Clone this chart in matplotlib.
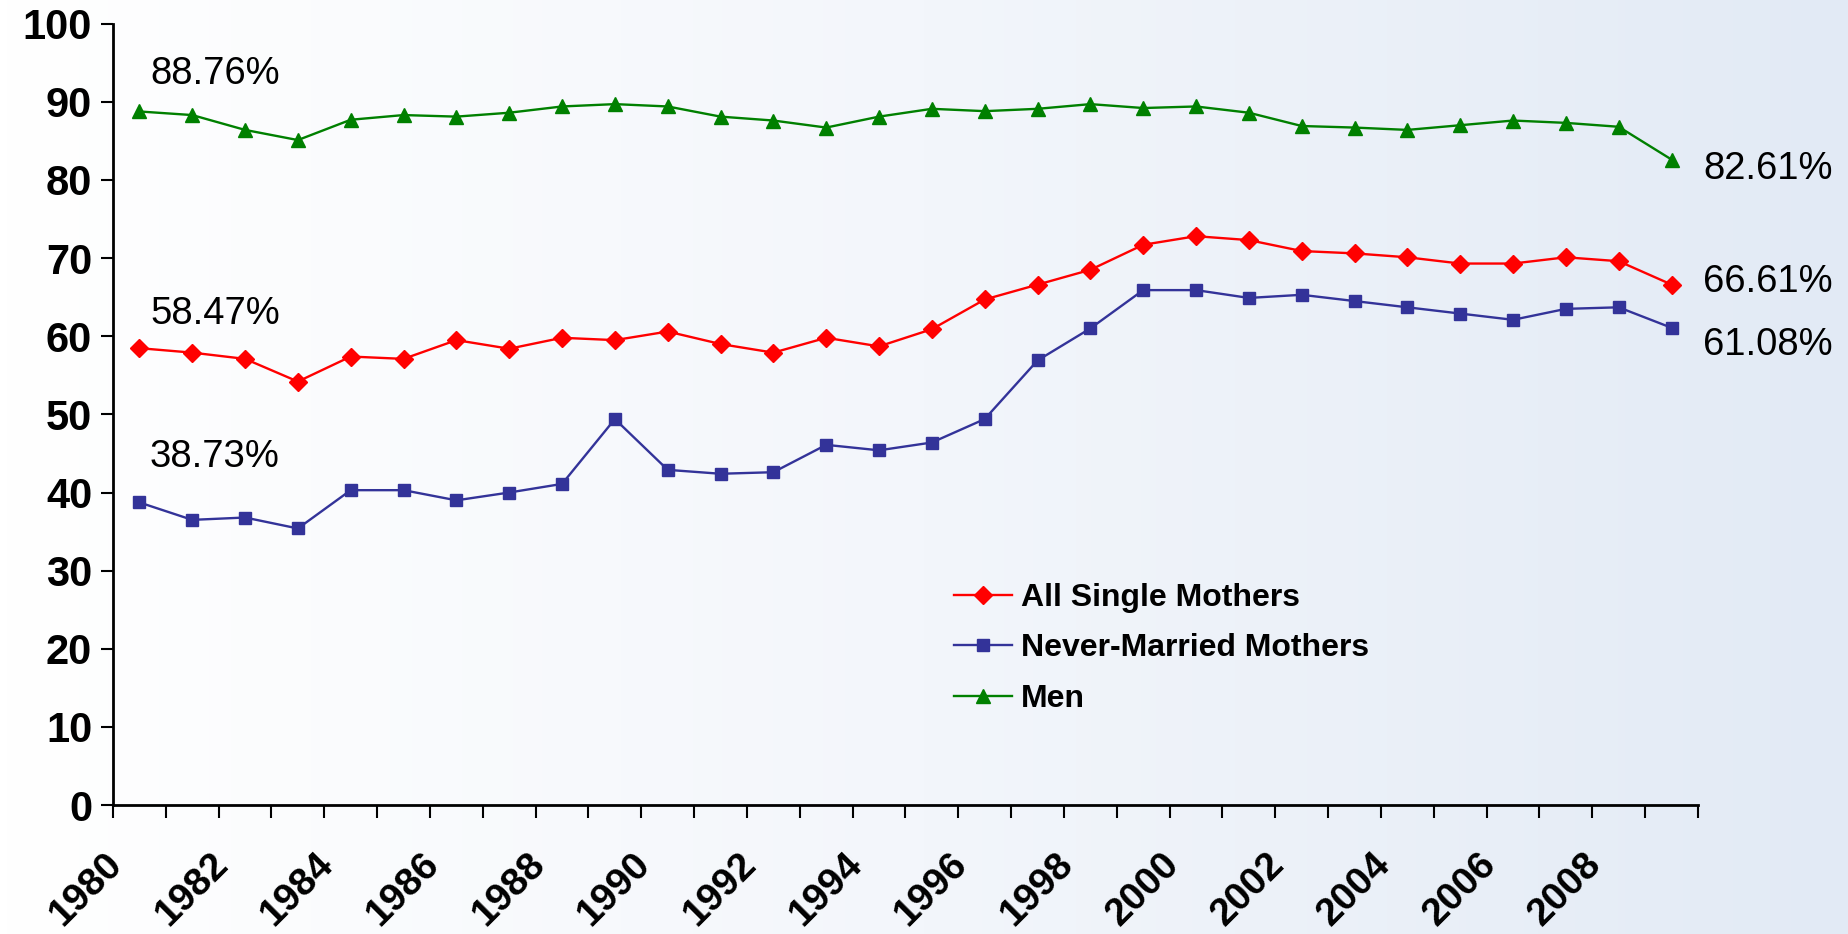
import matplotlib
matplotlib.use("Agg")
import matplotlib.pyplot as plt
import matplotlib.transforms as mtransforms
from matplotlib.colors import LinearSegmentedColormap
import numpy as np

plt.rcParams['font.family'] = ['Liberation Sans', 'DejaVu Sans']

# data, 1980-2009
years = list(range(1980, 2010))
all_single = [58.47, 57.9, 57.1, 54.2, 57.4, 57.1, 59.5, 58.4, 59.8, 59.5,
              60.6, 59.0, 57.9, 59.8, 58.7, 60.9, 64.7, 66.6, 68.5, 71.7,
              72.8, 72.3, 70.9, 70.6, 70.1, 69.3, 69.3, 70.1, 69.6, 66.61]
never_married = [38.73, 36.5, 36.8, 35.4, 40.3, 40.3, 39.0, 40.0, 41.1, 49.4,
                 42.9, 42.4, 42.6, 46.1, 45.4, 46.4, 49.4, 56.9, 61.0, 65.9,
                 65.9, 64.9, 65.3, 64.5, 63.7, 62.9, 62.1, 63.5, 63.7, 61.08]
men = [88.76, 88.3, 86.4, 85.1, 87.7, 88.3, 88.1, 88.6, 89.4, 89.7,
       89.4, 88.1, 87.6, 86.7, 88.1, 89.1, 88.8, 89.1, 89.7, 89.2,
       89.4, 88.6, 86.9, 86.7, 86.4, 87.0, 87.6, 87.3, 86.8, 82.61]

labels = ["All Single Mothers", "Never-Married Mothers", "Men"]

fig = plt.figure(figsize=(18.49, 9.34), dpi=100)

# background gradient, white on the left to pale blue on the right
bg = fig.add_axes([0, 0, 1, 1], zorder=-10)
cmap = LinearSegmentedColormap.from_list("bg", ["#ffffff", "#f3f6fb", "#e2eaf5"])
bg.imshow(np.linspace(0, 1, 512).reshape(1, -1), aspect='auto', cmap=cmap,
          extent=[0, 1, 0, 1])
bg.axis('off')

ax = fig.add_axes([0.0611, 0.138, 0.8572, 0.8367])
ax.patch.set_alpha(0)

x = np.array(years) + 0.5
ax.plot(x, all_single, color='#ff0000', lw=1.7, marker='D', ms=9.5, label=labels[0])
ax.plot(x, never_married, color='#333399', lw=1.7, marker='s', ms=9, label=labels[1])
ax.plot(x, men, color='#008000', lw=1.7, marker='^', ms=10.5, label=labels[2])

ax.set_xlim(1980, 2010)
ax.set_ylim(0, 100)
ax.set_yticks(range(0, 101, 10))
ax.set_xticks(range(1980, 2011))
ax.set_xticklabels([str(y) if (y % 2 == 0 and y < 2010) else '' for y in range(1980, 2011)],
                   rotation=45, ha='right', va='top', rotation_mode='anchor')

for s in ['top', 'right']:
    ax.spines[s].set_visible(False)
for s in ['left', 'bottom']:
    ax.spines[s].set_linewidth(2)
ax.tick_params(axis='both', direction='out', length=9, width=1.5)
ax.tick_params(axis='x', pad=14, labelsize=28)
ax.tick_params(axis='y', pad=6, labelsize=30)
for t in ax.get_xticklabels() + ax.get_yticklabels():
    t.set_fontweight('bold')
offset = mtransforms.ScaledTranslation(-0.09, -0.09, fig.dpi_scale_trans)
for t in ax.get_xticklabels():
    t.set_transform(t.get_transform() + offset)

# first and last values written beside the lines
ax.text(1980.7, 93.6, "88.76%", fontsize=27.5, va='center', ha='left')
ax.text(1980.7, 62.8, "58.47%", fontsize=27.5, va='center', ha='left')
ax.text(1980.7, 44.5, "38.73%", fontsize=27.5, va='center', ha='left')
ax.text(2010.1, 81.4, "82.61%", fontsize=27.5, va='center', ha='left', clip_on=False)
ax.text(2010.1, 67.0, "66.61%", fontsize=27.5, va='center', ha='left', clip_on=False)
ax.text(2010.1, 58.9, "61.08%", fontsize=27.5, va='center', ha='left', clip_on=False)

leg = fig.legend(loc='upper left', bbox_to_anchor=(0.516, 0.376), frameon=False,
                 prop={'weight': 'bold', 'size': 23}, handlelength=1.8,
                 handletextpad=0.3, labelspacing=0.64, borderpad=0, borderaxespad=0)

fig.savefig("out.png", dpi=100)
